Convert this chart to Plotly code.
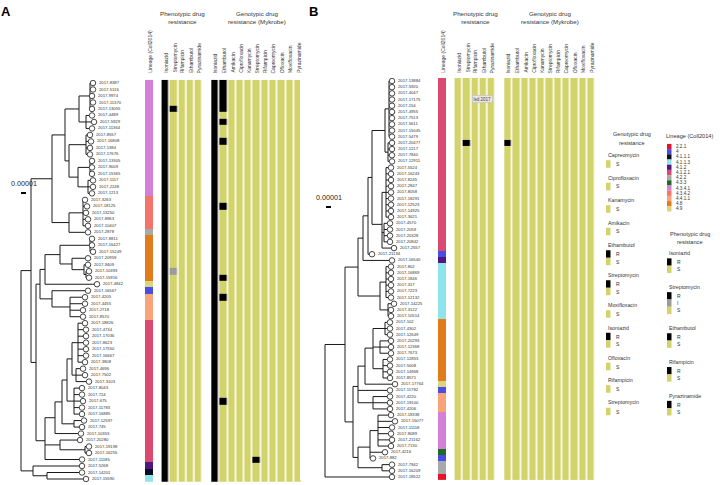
import plotly.graph_objects as go

W, H = 727, 485
FONT = "Liberation Sans, Arial, sans-serif"

# ---------------- data ----------------
LINEAGES = ["2.2.1", "4", "4.1.1.1", "4.1.1.3", "4.1.2", "4.1.2.1", "4.2.2",
            "4.3.3", "4.3.4.1", "4.3.4.2", "4.4.1.1", "4.8", "4.9"]
LINEAGE_COLORS = ["#e8122c", "#4b4be6", "#0c0c24", "#8fe3ea", "#4e1784",
                  "#dc4970", "#a9a9a9", "#1e6a22", "#d480d6", "#f4746a",
                  "#f8a47a", "#e27b1c", "#d8d67c"]

STATUS = ["S", "I", "R"]
STATUS_COLORS = ["#d3d36b", "#9b9b9b", "#000000"]

PHENO_DRUGS = ["Isoniazid", "Streptomycin", "Rifampicin", "Ethambutol", "Pyrazinamide"]
GENO_DRUGS = ["Isoniazid", "Ethambutol", "Amikacin", "Ciprofloxacin", "Kanamycin",
              "Streptomycin", "Rifampicin", "Capreomycin", "Ofloxacin",
              "Moxifloxacin", "Pyrazinamide"]

# Newick trees, branch lengths in units of 1e-6 substitutions/site
A_ORCHID = ("(((2017-8387:6,2017-5116:6,2017-9974:4,2017-11370:6,2017-13055:4):22,"
            "(2017-4489:12,2017-5929:16,2017-11364:12):14):28,"
            "((2017-8557:8,2017-16808:10,2017-1384:8,2017-17676:8):34,"
            "((2017-13305:4,2017-9009:4,2017-15365:4):24,"
            "(2017-1117:10,2017-2248:10,2017-1213:8):20):18):8)")
A_SALMON = "((2017-3263:4,2017-18125:8,2017-13250:6,2017-8963:10,2017-10407:10):28,2017-2878:38)"
A_ORANGE = ("(((2017-8811:4,2017-16427:4,2017-15249:6):60,"
            "(2017-20959:32,(2017-9409:8,(2017-10393:6,2017-15916:6):4):24):24):30,"
            "2017-4842:104)")
A_LSALMON = "(2017-16567:72,(2017-4205:30,2017-4455:30,2017-2718:26,2017-8570:26):36)"
A_RED = ("((((((2017-18826:14,2017-4734:16,2017-17036:16,2017-8623:16,2017-17550:16,"
         "2017-16667:16,2017-3808:14):12,(2017-4696:14,2017-7502:18,2017-3103:26):8):10,"
         "(2017-8043:16,2017-724:16,2017-675:18,2017-11783:16,2017-16885:16):14):10,"
         "(2017-12597:20,2017-745:16):24):14,2017-10353:52):20,"
         "(2017-20280:40,(2017-19198:8,2017-16255:8):50):30,2017-11185:74)")
A_BASAL = "(2017-5268:98,(2017-14201:70,2017-15590:78):28)"
TREE_A = ("(((" + A_ORCHID + ":26," + A_SALMON + ":34):42,"
          "((" + A_ORANGE + ":10," + A_LSALMON + ":24):8," + A_RED + ":18):10):20,"
          + A_BASAL + ":24);")

B_RED = ("(((2017-13884:6,2017-5920:6,2017-4047:6,2017-17175:6,2017-154:6,2017-4955:6,"
         "2017-7513:6,2017-5611:6,2017-15045:6,2017-5479:6):8,"
         "(2017-20477:8,2017-1217:8,2017-7840:8,2017-12911:8):6):26,"
         "((2017-5524:10,2017-16243:10,2017-8245:10,2017-2847:10,2017-8058:10,2017-18291:10,"
         "2017-12523:10,2017-14925:10,2017-3621:10):8,"
         "(2017-4570:12,2017-2059:12,2017-20328:12,2017-20842:12):4,2017-2557:24):20)")
B_CYAN = ("((2017-802:10,2017-16869:10,2017-1846:10,2017-317:10,2017-7223:10,2017-12132:10):12,"
          "(2017-14225:12,2017-3122:6,2017-10514:6):16)")
B_ORANGE = ("(((2017-102:10,2017-4302:10,2017-12649:10):24,"
            "(2017-20293:22,2017-12368:22,2017-7673:22):14,"
            "(2017-12853:14,2017-5008:14,2017-14968:14,2017-8571:14):20):16,2017-17764:60)")
B_MID = "(" + B_ORANGE + ":14,2017-11782:64,(2017-4220:34,2017-19100:34,2017-4206:34):30)"
B_LOW = ("(((2017-18338:26,2017-15077:34,2017-11118:28,2017-8089:26,2017-21162:28,2017-7130:26):16,"
         "2017-4216:30,2017-882:6):24,(2017-7942:20,2017-16209:20):48)")
TREE_B = ("(((((" + B_RED + ":8,2017-21134:8):10,2017-16540:58):10," + B_CYAN + ":44):26,"
          "(" + B_MID + ":10," + B_LOW + ":10):16):40,2017-18522:134);")

LINEAGE_A = [
    "4.3.4.1", "4.3.4.1", "4.3.4.1", "4.3.4.1", "4.3.4.1", "4.3.4.1", "4.3.4.1", "4.3.4.1", "4.3.4.1",
    "4.3.4.1", "4.3.4.1", "4.3.4.1", "4.3.4.1", "4.3.4.1", "4.3.4.1", "4.3.4.1", "4.3.4.1", "4.3.4.1",
    "4.3.4.2", "4.3.4.2", "4.3.4.2", "4.3.4.2", "4.3.4.2", "4.2.2",
    "4.8", "4.8", "4.8", "4.8", "4.8", "4.8", "4.8", "4.9", "4",
    "4.4.1.1", "4.4.1.1", "4.4.1.1", "4.4.1.1",
    "4.1.2.1", "4.1.2.1", "4.1.2.1", "4.1.2.1", "4.1.2.1", "4.1.2.1", "4.1.2.1", "4.1.2.1",
    "4.1.2.1", "4.1.2.1", "4.1.2.1", "4.1.2.1", "4.1.2.1", "4.1.2.1", "4.1.2.1", "4.1.2.1",
    "4.1.2.1", "4.1.2.1", "4.1.2.1", "4.1.2.1", "4.1.2.1", "4.1.2.1",
    "4.1.2", "4.1.1.1", "4.1.1.3"]

LINEAGE_B = [
    "4.1.2.1", "4.1.2.1", "4.1.2.1", "4.1.2.1", "4.1.2.1", "4.1.2.1", "4.1.2.1", "4.1.2.1",
    "4.1.2.1", "4.1.2.1", "4.1.2.1", "4.1.2.1", "4.1.2.1", "4.1.2.1", "4.1.2.1", "4.1.2.1",
    "4.1.2.1", "4.1.2.1", "4.1.2.1", "4.1.2.1", "4.1.2.1", "4.1.2.1", "4.1.2.1", "4.1.2.1",
    "4.1.2.1", "4.1.2.1", "4.1.2.1", "4.1.2.1",
    "4", "4.1.2",
    "4.1.1.3", "4.1.1.3", "4.1.1.3", "4.1.1.3", "4.1.1.3", "4.1.1.3", "4.1.1.3", "4.1.1.3", "4.1.1.3",
    "4.8", "4.8", "4.8", "4.8", "4.8", "4.8", "4.8", "4.8", "4.8", "4.8",
    "4.9", "4", "4.4.1.1", "4.4.1.1", "4.4.1.1",
    "4.3.4.1", "4.3.4.1", "4.3.4.1", "4.3.4.1", "4.3.4.1", "4.3.4.1",
    "4.3.3", "4", "4.2.2", "4.2.2", "2.2.1"]

# default status per drug, then per-sample exceptions
PHENO_A_DEFAULT = {"Isoniazid": "R"}
PHENO_A_EXC = {("Streptomycin", "2017-13055"): "R", ("Streptomycin", "2017-10393"): "I"}
GENO_A_DEFAULT = {"Isoniazid": "R"}
GENO_A_ETHAMBUTOL_R = ["2017-8387", "2017-5116", "2017-9974", "2017-11370", "2017-13055",
                       "2017-5929", "2017-16808", "2017-18125", "2017-15916", "2017-4205",
                       "2017-675"]
GENO_A_EXC = {("Ethambutol", s): "R" for s in GENO_A_ETHAMBUTOL_R}
GENO_A_EXC[("Streptomycin", "2017-11185")] = "R"
PHENO_B_DEFAULT = {}
PHENO_B_EXC = {("Streptomycin", "2017-20477"): "R"}
GENO_B_DEFAULT = {}
GENO_B_EXC = {("Isoniazid", "2017-20477"): "R"}

SCALE_BAR = 10  # 0.00001 in 1e-6 units
SCALE_TEXT = "0.00001"

GENO_LEGEND = [("Capreomycin", ["S"]), ("Ciprofloxacin", ["S"]), ("Kanamycin", ["S"]),
               ("Amikacin", ["S"]), ("Ethambutol", ["R", "S"]), ("Streptomycin", ["R", "S"]),
               ("Moxifloxacin", ["S"]), ("Isoniazid", ["R", "S"]), ("Ofloxacin", ["S"]),
               ("Rifampicin", ["S"]), ("Streptomycin", ["S"])]
PHENO_LEGEND = [("Isoniazid", ["R", "S"]), ("Streptomycin", ["R", "I", "S"]),
                ("Ethambutol", ["R", "S"]), ("Rifampicin", ["R", "S"]),
                ("Pyrazinamide", ["R", "S"])]


# ---------------- tree helpers ----------------
def parse_newick(text):
    s = text.replace(" ", "").replace("\n", "")
    pos = 0

    def node():
        nonlocal pos
        n = {"children": [], "name": "", "len": 0.0}
        if s[pos] == "(":
            pos += 1
            while True:
                n["children"].append(node())
                ch = s[pos]
                pos += 1
                if ch == ",":
                    continue
                if ch == ")":
                    break
                raise ValueError("bad newick at %d" % pos)
        st = pos
        while pos < len(s) and s[pos] not in ":,);":
            pos += 1
        n["name"] = s[st:pos]
        if pos < len(s) and s[pos] == ":":
            pos += 1
            st = pos
            while s[pos] not in ",);":
                pos += 1
            n["len"] = float(s[st:pos])
        return n

    return node()


def layout_tree(root):
    tips = []

    def walk(n, px):
        n["x"] = px + n["len"]
        if n["children"]:
            for c in n["children"]:
                walk(c, n["x"])
            n["y"] = sum(c["y"] for c in n["children"]) / len(n["children"])
        else:
            n["y"] = len(tips)
            tips.append(n)

    walk(root, 0.0)
    xs, ys = [], []

    def edges(n, parent_x):
        if parent_x is not None:
            xs.extend([parent_x, n["x"], None])
            ys.extend([n["y"], n["y"], None])
        if n["children"]:
            cy = [c["y"] for c in n["children"]]
            xs.extend([n["x"], n["x"], None])
            ys.extend([min(cy), max(cy), None])
            for c in n["children"]:
                edges(c, n["x"])

    edges(root, None)
    return tips, xs, ys


def status_matrix(names, drugs, default, exc):
    return [[STATUS.index(exc.get((d, nm), default.get(d, "S"))) for d in drugs] for nm in names]


def discrete_scale(colors):
    n = len(colors)
    return [[i / (n - 1), c] for i, c in enumerate(colors)]


fig = go.Figure()

PANELS = [
    dict(tree=TREE_A, lin=LINEAGE_A, pd=PHENO_A_DEFAULT, pe=PHENO_A_EXC, gd=GENO_A_DEFAULT,
         ge=GENO_A_EXC, xt="x", xh="x2", y="y", root_px=21, ppu=0.5, tree_dom=(0, 145),
         heat_dom=(145, 302.5), top=83.0, bottom=479.0, bar_y=193, letter="A", letter_x=6,
         bar_x=0),
    dict(tree=TREE_B, lin=LINEAGE_B, pd=PHENO_B_DEFAULT, pe=PHENO_B_EXC, gd=GENO_B_DEFAULT,
         ge=GENO_B_EXC, xt="x3", xh="x4", y="y2", root_px=325, ppu=0.5, tree_dom=(300, 438),
         heat_dom=(438, 595.5), top=81.0, bottom=477.0, bar_y=207, letter="B", letter_x=313,
         bar_x=2),
]

layout_axes = {}
annotations = []
shapes = []
PHENO_X = [2, 3, 4, 5, 6]
GENO_X = list(range(8, 19))

for P in PANELS:
    root = parse_newick(P["tree"])
    tips, xs, ys = layout_tree(root)
    names = [t["name"] for t in tips]
    n = len(names)
    fig.add_trace(go.Scatter(x=xs, y=ys, mode="lines", line=dict(color="#1a1a1a", width=1.0),
                             xaxis=P["xt"], yaxis=P["y"], hoverinfo="skip", showlegend=False))
    fig.add_trace(go.Scatter(x=[t["x"] for t in tips], y=[t["y"] for t in tips], mode="markers",
                             marker=dict(symbol="circle", size=5.5, color="white",
                                         line=dict(color="#1a1a1a", width=0.8)),
                             xaxis=P["xt"], yaxis=P["y"], hoverinfo="text", text=names,
                             showlegend=False))
    fig.add_trace(go.Scatter(x=[t["x"] + 12 for t in tips], y=[t["y"] for t in tips], mode="text",
                             text=names, textposition="middle right",
                             textfont=dict(size=4.2, color="#333", family=FONT),
                             xaxis=P["xt"], yaxis=P["y"], hoverinfo="skip", showlegend=False))
    rows = list(range(n))
    fig.add_trace(go.Heatmap(x=[0], y=rows, z=[[LINEAGES.index(l)] for l in P["lin"]],
                             zmin=0, zmax=len(LINEAGES) - 1,
                             colorscale=discrete_scale(LINEAGE_COLORS), showscale=False,
                             xaxis=P["xh"], yaxis=P["y"], hoverinfo="skip"))
    fig.add_trace(go.Heatmap(x=PHENO_X, y=rows, z=status_matrix(names, PHENO_DRUGS, P["pd"], P["pe"]),
                             zmin=0, zmax=2, colorscale=discrete_scale(STATUS_COLORS),
                             showscale=False, xgap=1.6, ygap=0, xaxis=P["xh"], yaxis=P["y"],
                             hoverinfo="skip"))
    fig.add_trace(go.Heatmap(x=GENO_X, y=rows, z=status_matrix(names, GENO_DRUGS, P["gd"], P["ge"]),
                             zmin=0, zmax=2, colorscale=discrete_scale(STATUS_COLORS),
                             showscale=False, xgap=1.6, ygap=0, xaxis=P["xh"], yaxis=P["y"],
                             hoverinfo="skip"))

    pitch = (P["bottom"] - P["top"]) / (n - 1)
    y_top_px = P["top"] - pitch / 2
    y_bot_px = P["bottom"] + pitch / 2
    ydom = [(H - y_bot_px) / H, (H - y_top_px) / H]
    t0, t1 = P["tree_dom"]
    h0, h1 = P["heat_dom"]
    xt_range = [(t0 - P["root_px"]) / P["ppu"], (t1 - P["root_px"]) / P["ppu"]]
    layout_axes["xaxis" + P["xt"][1:]] = dict(domain=[t0 / W, t1 / W], range=xt_range,
                                              visible=False, anchor=P["y"], fixedrange=True)
    layout_axes["xaxis" + P["xh"][1:]] = dict(domain=[h0 / W, h1 / W], range=[-0.5, 18.5],
                                              visible=False, anchor=P["y"], fixedrange=True)
    layout_axes["yaxis" + P["y"][1:]] = dict(domain=ydom, range=[n - 0.5, -0.5], visible=False,
                                             anchor=P["xt"], fixedrange=True)

    hdr_y = (H - 75) / H
    annotations.append(dict(x=0, y=hdr_y, xref=P["xh"], yref="paper", text="Lineage (Coll2014)",
                            textangle=-90, showarrow=False, xanchor="center", yanchor="bottom",
                            font=dict(size=5, color="#333", family=FONT)))
    for xv, d in list(zip(PHENO_X, PHENO_DRUGS)) + list(zip(GENO_X, GENO_DRUGS)):
        annotations.append(dict(x=xv, y=hdr_y, xref=P["xh"], yref="paper", text=d,
                                textangle=-90, showarrow=False, xanchor="center",
                                yanchor="bottom", font=dict(size=5, color="#333", family=FONT)))
    annotations.append(dict(x=sum(PHENO_X) / len(PHENO_X), y=(H - 8) / H, xref=P["xh"],
                            yref="paper", text="Phenotypic drug<br>resistance", showarrow=False,
                            xanchor="center", yanchor="top", align="center",
                            font=dict(size=6.2, color="#333", family=FONT)))
    annotations.append(dict(x=sum(GENO_X) / len(GENO_X), y=(H - 8) / H, xref=P["xh"],
                            yref="paper", text="Genotypic drug<br>resistance (Mykrobe)",
                            showarrow=False, xanchor="center", yanchor="top", align="center",
                            font=dict(size=6.2, color="#333", family=FONT)))
    annotations.append(dict(x=P["letter_x"] / W, y=(H - 2) / H, xref="paper", yref="paper",
                            text="<b>%s</b>" % P["letter"], showarrow=False, xanchor="center",
                            yanchor="top", font=dict(size=13, color="#000", family=FONT)))
    bx0 = P["bar_x"]
    shapes.append(dict(type="line", xref=P["xt"], yref="paper", x0=bx0, x1=bx0 + SCALE_BAR,
                       y0=(H - P["bar_y"]) / H, y1=(H - P["bar_y"]) / H,
                       line=dict(color="#000", width=2)))
    annotations.append(dict(x=bx0 + SCALE_BAR / 2, y=(H - P["bar_y"] + 3) / H, xref=P["xt"],
                            yref="paper", text=SCALE_TEXT, showarrow=False, xanchor="center",
                            yanchor="bottom", font=dict(size=7.2, color="#222", family=FONT)))

annotations.append(dict(x=483 / W, y=(H - 99) / H, xref="paper", yref="paper", text="lsd 2017",
                        showarrow=False, xanchor="center", yanchor="middle", bgcolor="#e6e6e6",
                        bordercolor="#b5b5b5", borderwidth=0.5, borderpad=1,
                        font=dict(size=4.5, color="#444", family=FONT)))


# ---------------- legends (shapes + text) ----------------
def px(xp, yp):
    return xp / W, (H - yp) / H


def legend_text(xp, yp, txt, size=5.2, anchor="left"):
    x, y = px(xp, yp)
    annotations.append(dict(x=x, y=y, xref="paper", yref="paper", text=txt, showarrow=False,
                            xanchor=anchor, yanchor="middle",
                            font=dict(size=size, color="#333", family=FONT)))


def swatch(xp, yp, w, h, color):
    x0, y0 = px(xp, yp - h / 2)
    x1, y1 = px(xp + w, yp + h / 2)
    shapes.append(dict(type="rect", xref="paper", yref="paper", x0=x0, x1=x1, y0=y0, y1=y1,
                       fillcolor=color, line=dict(width=0)))


def drug_legend(x_left, y_start, entries, title_gap, item_pitch, group_gap):
    y = y_start
    for name, states in entries:
        legend_text(x_left, y, name, 5.3)
        y += title_gap
        for k, st in enumerate(states):
            swatch(x_left, y, 4.5, item_pitch, STATUS_COLORS[STATUS.index(st)])
            legend_text(x_left + 7.5, y, st, 5.0)
            if k < len(states) - 1:
                y += item_pitch
        y += group_gap


legend_text(632, 134, "Genotypic drug", 5.6, "center")
legend_text(632, 143, "resistance", 5.6, "center")
drug_legend(606, 155, GENO_LEGEND, 9, 7.5, 13.5)

legend_text(664, 136, "Lineage (Coll2014)", 5.6)
for k, (lab, col) in enumerate(zip(LINEAGES, LINEAGE_COLORS)):
    yy = 146.5 + k * 5.2
    swatch(667, yy, 4.5, 5.2, col)
    legend_text(674, yy, lab, 4.6)
legend_text(690, 234, "Phenotypic drug", 5.6, "center")
legend_text(690, 242, "resistance", 5.6, "center")
drug_legend(667, 253, PHENO_LEGEND, 9, 7.3, 17.5)

fig.update_layout(width=W, height=H, margin=dict(l=0, r=0, t=0, b=0), paper_bgcolor="white",
                  plot_bgcolor="white", showlegend=False, annotations=annotations,
                  shapes=shapes, font=dict(family=FONT), **layout_axes)

fig.write_html("out.html", config={"displayModeBar": False},
               post_script="document.body.style.margin='0px';")
